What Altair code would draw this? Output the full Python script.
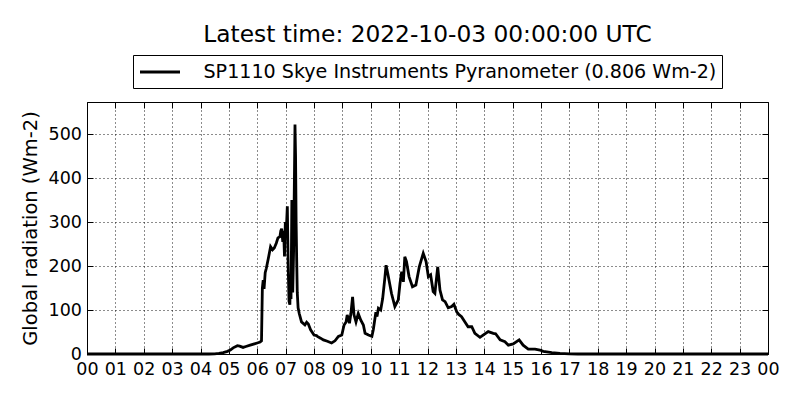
import altair as alt
import pandas as pd

title_text = "Latest time: 2022-10-03 00:00:00 UTC"
series_name = "SP1110 Skye Instruments Pyranometer (0.806 Wm-2)"
y_title = "Global radiation (Wm-2)"

hours = [
    0.0, 4.3, 4.5, 4.65, 4.8, 4.95, 5.05, 5.15, 5.3, 5.38, 5.5, 5.6, 5.75, 5.9,
    6.0, 6.1, 6.15, 6.18, 6.21, 6.24, 6.28, 6.32, 6.39, 6.47, 6.54, 6.6, 6.67,
    6.73, 6.8, 6.83, 6.86, 6.9, 6.93, 6.96, 6.99, 7.03, 7.06, 7.09, 7.12, 7.15,
    7.17, 7.19, 7.22, 7.25, 7.28, 7.31, 7.33, 7.35, 7.37, 7.39, 7.41, 7.44, 7.48,
    7.56, 7.68, 7.74, 7.8, 7.88, 8.0, 8.09, 8.12, 8.23, 8.33, 8.47, 8.62, 8.74,
    8.86, 8.98, 9.06, 9.13, 9.17, 9.25, 9.3, 9.36, 9.41, 9.48, 9.56, 9.65, 9.74,
    9.8, 9.92, 10.04, 10.09, 10.18, 10.22, 10.27, 10.35, 10.42, 10.5, 10.54,
    10.6, 10.73, 10.85, 10.97, 11.03, 11.09, 11.15, 11.2, 11.26, 11.35, 11.47,
    11.59, 11.71, 11.85, 11.95, 12.03, 12.11, 12.2, 12.26, 12.36, 12.44, 12.53,
    12.62, 12.73, 12.85, 12.93, 13.03, 13.1, 13.2, 13.32, 13.43, 13.56, 13.67,
    13.85, 13.96, 14.14, 14.32, 14.4, 14.56, 14.73, 14.85, 15.02, 15.23, 15.37,
    15.55, 15.79, 15.96, 16.08, 16.38, 16.67, 17.0, 17.3, 24.0,
]
radiation = [
    0, 0, 0.5, 1.5, 3, 6, 9, 14, 19, 18, 15, 17, 20, 23,
    25, 27, 30, 150, 168, 148, 185, 195, 217, 244, 237, 241, 252,
    264, 267, 280, 285, 255, 280, 222, 300, 290, 336, 200, 120, 112,
    180, 125, 350, 140, 230, 400, 522, 450, 300, 214, 140, 105, 92,
    73, 66, 72, 68, 55, 43, 42, 40, 36, 32, 29, 25, 30,
    40, 43, 66, 73, 89, 70, 92, 130, 89, 73, 92, 77, 66,
    47, 43, 40, 55, 95, 85, 104, 100, 126, 175, 202,
    183, 138, 108, 123, 160, 187, 164, 221, 210, 176, 153,
    157, 198, 229, 210, 176, 180, 142, 138, 198, 145, 123,
    119, 105, 108, 113, 96, 90, 85, 73, 62, 62, 47,
    38, 43, 51, 47, 46, 32, 28, 20, 23, 32, 20,
    11, 11, 9, 6, 3, 1.5, 0.5, 0, 0,
]

hour_ticks = list(range(25))
hour_labels = ["00", "01", "02", "03", "04", "05", "06", "07", "08", "09", "10",
               "11", "12", "13", "14", "15", "16", "17", "18", "19", "20", "21",
               "22", "23", "00"]
y_ticks = [0, 100, 200, 300, 400, 500]
y_max = 573

FONT = "DejaVu Sans"
TICK = 6
LABEL_SIZE = 17.5

df = pd.DataFrame({"hour": hours, "rad": radiation, "series": series_name})
label_expr = "[" + ",".join(f"'{l}'" for l in hour_labels) + "][datum.value]"

xscale = alt.Scale(domain=[0, 24], nice=False, zero=False)
yscale = alt.Scale(domain=[0, y_max], nice=False)

base = alt.Chart(df)

main = base.mark_line(strokeWidth=2.8).encode(
    x=alt.X("hour:Q", scale=xscale, axis=alt.Axis(
        orient="bottom", values=hour_ticks, labelExpr=label_expr, title=None,
        grid=True, gridDash=[1, 3], gridColor="black", gridOpacity=0.9, gridWidth=1,
        ticks=False, domain=False, labelFont=FONT, labelFontSize=LABEL_SIZE,
        labelColor="black", labelPadding=6, labelFlush=False, labelOverlap=False)),
    y=alt.Y("rad:Q", scale=yscale, axis=alt.Axis(
        orient="left", values=y_ticks, title=y_title, titleFont=FONT,
        titleFontSize=19.5, titleFontWeight="normal", titleColor="black",
        titleX=-51, titleY=126, titleAngle=270, titleAlign="center",
        titleBaseline="alphabetic",
        grid=True, gridDash=[1, 3], gridColor="black", gridOpacity=0.9, gridWidth=1,
        ticks=False, domain=False, labelFont=FONT, labelFontSize=LABEL_SIZE,
        labelColor="black", labelPadding=5.5, labelOverlap=False)),
    color=alt.Color("series:N", scale=alt.Scale(range=["black"]), legend=alt.Legend(
        title=None, orient="none", legendX=46, legendY=-47,
        symbolType="M-2,0H2", symbolSize=400, symbolStrokeWidth=2.8,
        symbolOffset=10, labelFont=FONT, labelFontSize=19.1,
        labelColor="black", labelOffset=32, labelLimit=1000, padding=5.5,
        strokeColor="black", fillColor="white", cornerRadius=0)),
)

def tick_axis(orient):
    return alt.Axis(orient=orient, values=hour_ticks if orient in ("top", "bottom") else y_ticks,
                    title=None, labels=False, grid=False, domain=False, ticks=True,
                    tickSize=TICK, tickColor="black", tickWidth=1, offset=-TICK)

ticks_tr = base.mark_line(opacity=0).encode(
    x=alt.X("hour:Q", scale=xscale, axis=tick_axis("top")),
    y=alt.Y("rad:Q", scale=yscale, axis=tick_axis("right")),
)
ticks_bl = base.mark_line(opacity=0).encode(
    x=alt.X("hour:Q", scale=xscale, axis=tick_axis("bottom")),
    y=alt.Y("rad:Q", scale=yscale, axis=tick_axis("left")),
)

chart = alt.layer(main, ticks_tr, ticks_bl).resolve_axis(
    x="independent", y="independent"
).properties(
    width=681, height=252,
    autosize=alt.AutoSizeParams(type="none"),
    padding={"left": 79, "top": 94, "right": 20, "bottom": 30},
    background="white",
    title=alt.TitleParams(title_text, font=FONT, fontSize=23.3, fontWeight="normal",
                          color="black", anchor="middle", offset=7),
).configure_view(stroke="black", strokeWidth=1)

chart.save("out.html", embed_options={"renderer": "svg", "actions": False})
